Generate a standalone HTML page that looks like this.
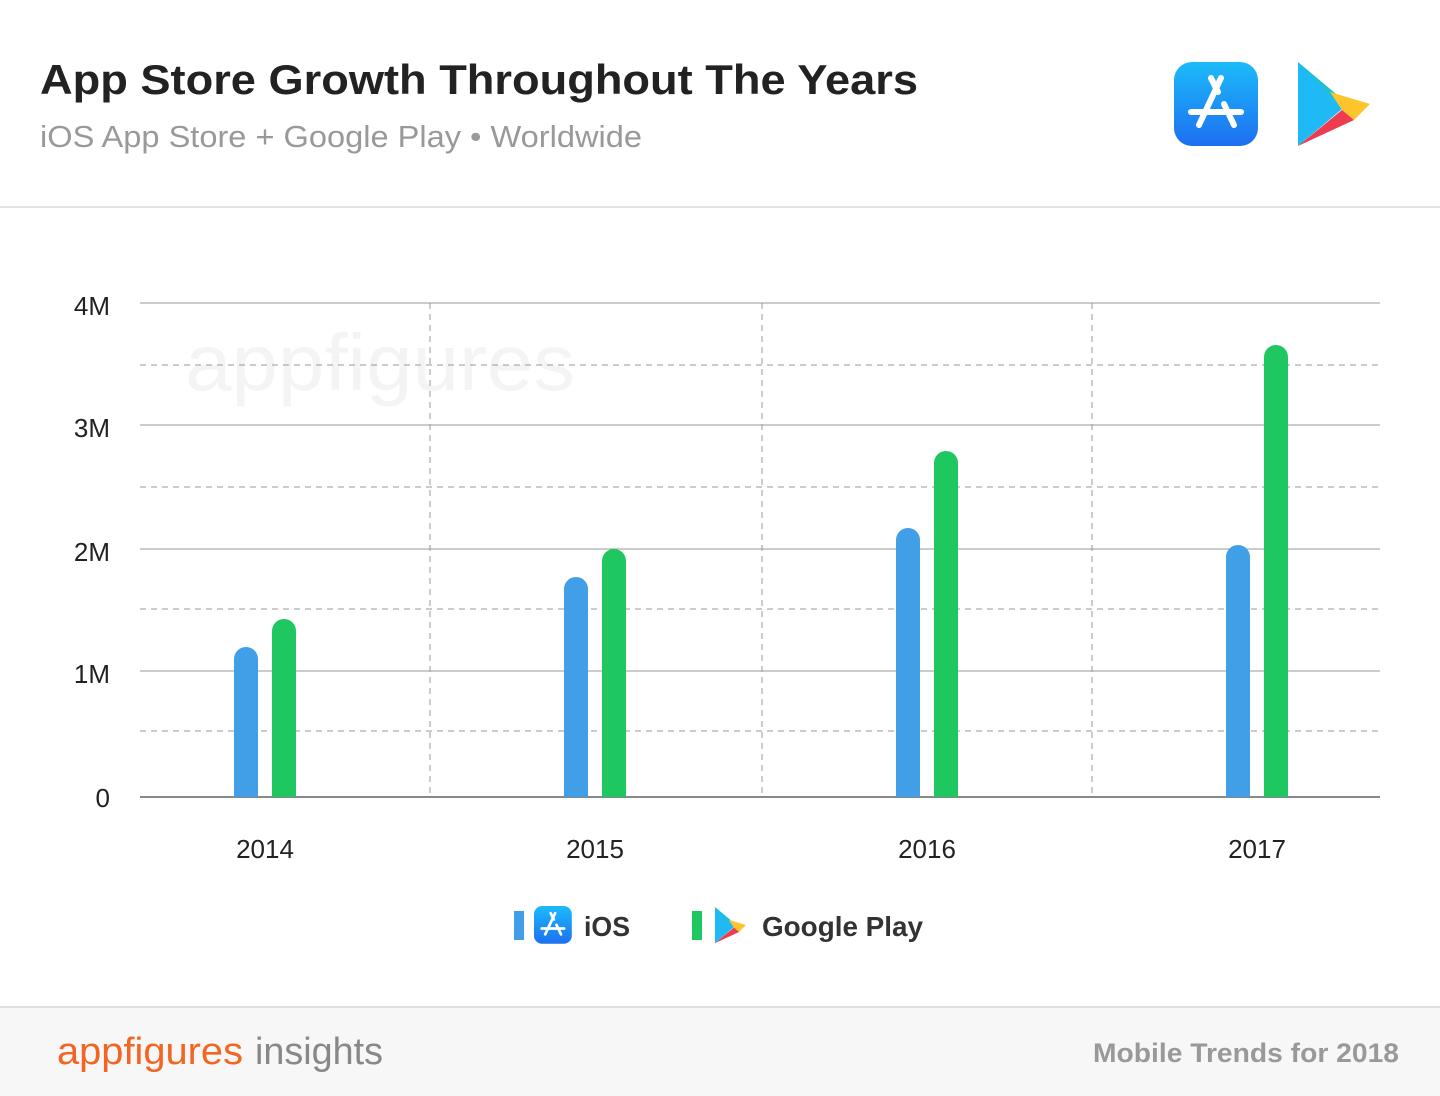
<!DOCTYPE html><html><head><style>body{margin:0;width:1440px;height:1096px;background:#fff;font-family:"Liberation Sans",sans-serif;position:relative;overflow:hidden}</style></head><body>
<svg width="1440" height="1096" style="position:absolute;left:0;top:0">
<defs>
<linearGradient id="ab" x1="0" y1="0" x2="0" y2="1"><stop offset="0" stop-color="#1cbbfb"/><stop offset="1" stop-color="#1d6ff0"/></linearGradient>
<g id="as"><rect x="0" y="0" width="84" height="84" rx="18" fill="url(#ab)"/><g stroke="#fff" stroke-width="6" stroke-linecap="round" fill="none"><line x1="47" y1="16" x2="25" y2="63"/><line x1="37" y1="16" x2="44" y2="30"/><line x1="50" y1="42" x2="60" y2="63"/><line x1="17" y1="50" x2="67" y2="50"/></g></g>
</defs>
<text x="40" y="94" font-size="42" font-weight="bold" fill="#222" textLength="878" lengthAdjust="spacingAndGlyphs">App Store Growth Throughout The Years</text>
<text x="40" y="147" font-size="31" fill="#999" textLength="602" lengthAdjust="spacingAndGlyphs">iOS App Store + Google Play • Worldwide</text>
<use href="#as" x="1174" y="62"/>
<g transform="translate(1298,62)"><path d="M0 0 L50 42 L0 84Z" fill="#1fb9f5"/><path d="M0 0 L32 30 L44 44Z" fill="#23d27c"/><path d="M32 30 L72 42 L56 58 L44 48Z" fill="#fdc52b"/><path d="M0 84 L44 48 L56 58Z" fill="#ee3b50"/></g>
<line x1="0" y1="207" x2="1440" y2="207" stroke="#e3e3e3" stroke-width="2"/>
<text x="185" y="390" font-size="80" fill="#f4f4f4" textLength="390" lengthAdjust="spacingAndGlyphs">appfigures</text>
<g stroke="#999" stroke-width="1" stroke-dasharray="6,5"><line x1="140" y1="365" x2="1380" y2="365"/><line x1="140" y1="487" x2="1380" y2="487"/><line x1="140" y1="609" x2="1380" y2="609"/><line x1="140" y1="731" x2="1380" y2="731"/><line x1="430" y1="303" x2="430" y2="797"/><line x1="762" y1="303" x2="762" y2="797"/><line x1="1092" y1="303" x2="1092" y2="797"/></g>
<g stroke="#999" stroke-width="1"><line x1="140" y1="303" x2="1380" y2="303"/><line x1="140" y1="425" x2="1380" y2="425"/><line x1="140" y1="549" x2="1380" y2="549"/><line x1="140" y1="671" x2="1380" y2="671"/></g>
<line x1="140" y1="797" x2="1380" y2="797" stroke="#888" stroke-width="2"/>
<g font-size="26" fill="#222" text-anchor="end"><text x="110" y="315">4M</text><text x="110" y="437">3M</text><text x="110" y="561">2M</text><text x="110" y="683">1M</text><text x="110" y="807">0</text></g>
<g font-size="26" fill="#222" text-anchor="middle"><text x="265" y="858">2014</text><text x="595" y="858">2015</text><text x="927" y="858">2016</text><text x="1257" y="858">2017</text></g>
<g fill="#419fe8"><path d="M234 797V659a12 12 0 0 1 24 0V797Z"/><path d="M564 797V589a12 12 0 0 1 24 0V797Z"/><path d="M896 797V540a12 12 0 0 1 24 0V797Z"/><path d="M1226 797V557a12 12 0 0 1 24 0V797Z"/></g>
<g fill="#1ec760"><path d="M272 797V631a12 12 0 0 1 24 0V797Z"/><path d="M602 797V561a12 12 0 0 1 24 0V797Z"/><path d="M934 797V463a12 12 0 0 1 24 0V797Z"/><path d="M1264 797V357a12 12 0 0 1 24 0V797Z"/></g>
<rect x="514" y="911" width="10" height="29" fill="#419fe8"/>
<use href="#as" transform="translate(534,906) scale(0.45)"/>
<text x="584" y="936" font-size="28" font-weight="bold" fill="#333" textLength="46" lengthAdjust="spacingAndGlyphs">iOS</text>
<rect x="692" y="911" width="10" height="29" fill="#1ec760"/>
<g transform="translate(715,907) scale(0.43)"><path d="M0 0 L50 42 L0 84Z" fill="#1fb9f5"/><path d="M0 0 L32 30 L44 44Z" fill="#23d27c"/><path d="M32 30 L72 42 L56 58 L44 48Z" fill="#fdc52b"/><path d="M0 84 L44 48 L56 58Z" fill="#ee3b50"/></g>
<text x="762" y="936" font-size="28" font-weight="bold" fill="#333" textLength="161" lengthAdjust="spacingAndGlyphs">Google Play</text>
<rect x="0" y="1006" width="1440" height="90" fill="#f7f7f7"/>
<line x1="0" y1="1007" x2="1440" y2="1007" stroke="#e0e0e0" stroke-width="2"/>
<text x="57" y="1064" font-size="38" fill="#f26522" textLength="186" lengthAdjust="spacingAndGlyphs">appfigures</text>
<text x="255" y="1064" font-size="38" fill="#888" textLength="128" lengthAdjust="spacingAndGlyphs">insights</text>
<text x="1093" y="1062" font-size="27" font-weight="bold" fill="#999" textLength="306" lengthAdjust="spacingAndGlyphs">Mobile Trends for 2018</text>
</svg></body></html>
